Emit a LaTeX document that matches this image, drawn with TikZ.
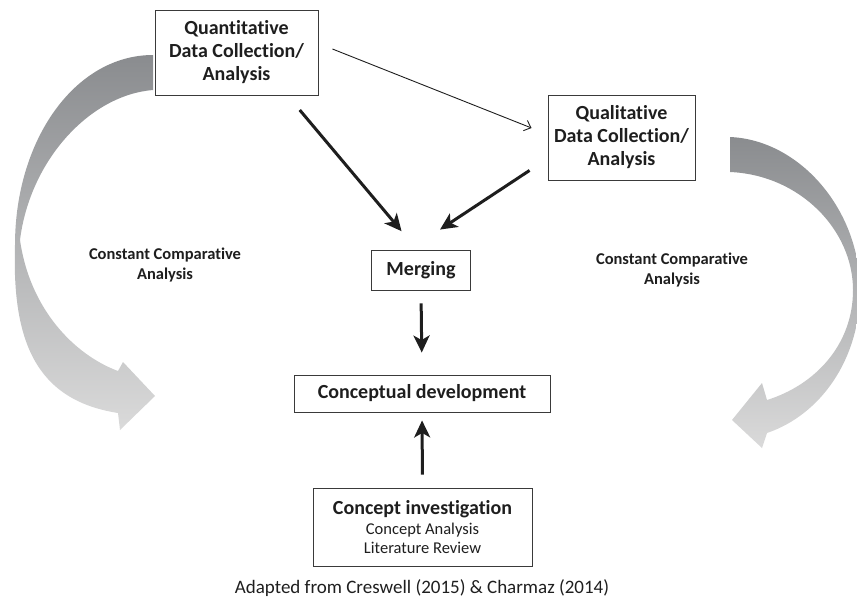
\documentclass[tikz,border=0pt]{standalone}
\usepackage{fontspec}
\setmainfont{Carlito}[Ligatures=NoCommon]
\usetikzlibrary{arrows.meta,calc}
\definecolor{inkc}{HTML}{1E1E1E}
\definecolor{framec}{HTML}{3A3A3A}
\definecolor{bandtop}{HTML}{8A8C8F}
\definecolor{bandbot}{HTML}{DADADA}
\tikzset{
  stagebox/.style={draw=framec, line width=0.9pt, align=center, text=inkc,
                   font=\bfseries\fontsize{20}{23}\selectfont, inner sep=0pt},
  heavy/.style={draw=inkc, line width=3pt, -{Stealth[length=17pt,width=16pt,inset=4.5pt]}},
  light/.style={draw=inkc, line width=0.9pt, -{Straight Barb[length=6pt,width=11pt]}},
  sidenote/.style={align=center, text=inkc, font=\bfseries\fontsize{16.5}{20}\selectfont},
  band/.style={draw=none, top color=bandtop, bottom color=bandbot},
}
\begin{document}
\begin{tikzpicture}[x=1pt,y=-1pt]
\useasboundingbox (0,0) rectangle (857,603);

% curved feedback bands
\path[band] (153,55) .. controls (75,55) and (15,140) .. (15,245)
  .. controls (12,340) and (35,400) .. (118,413)
  -- (120,430) -- (155,396) -- (123,362) -- (118,371)
  .. controls (75,355) and (30,310) .. (20,240)
  .. controls (30,160) and (90,95) .. (153,90) -- cycle;
\path[band] (730,137) .. controls (800,140) and (860,210) .. (860,290)
  .. controls (860,360) and (820,415) .. (767,433)
  -- (762,448) -- (732,420) -- (762,383) -- (767,400)
  .. controls (815,385) and (853,345) .. (853,290)
  .. controls (853,230) and (800,175) .. (730,172) -- cycle;

% stages
\node[stagebox, minimum width=163pt, minimum height=85pt] (quant) at (236.5,52.5)
  {Quantitative\\Data Collection/\\Analysis};
\node[stagebox, minimum width=147pt, minimum height=85pt] (qual) at (621.5,137.5)
  {Qualitative\\Data Collection/\\Analysis};
\node[stagebox, minimum width=99pt, minimum height=40pt] (merge) at (421,270) {Merging};
\node[stagebox, minimum width=256pt, minimum height=37pt] (concdev) at (422,393.5)
  {Conceptual development};
\node[stagebox, minimum width=219pt, minimum height=78pt] (concinv) at (422.5,527)
  {Concept investigation\\[-3pt]
   {\mdseries\fontsize{16.5}{19}\selectfont Concept Analysis}\\[-4pt]
   {\mdseries\fontsize{16.5}{19}\selectfont Literature Review}};

% side labels and source
\node[sidenote] (ccl) at (165,265) {Constant Comparative\\Analysis};
\node[sidenote] (ccr) at (672,270) {Constant Comparative\\Analysis};
\node[text=inkc, font=\fontsize{19}{22}\selectfont] (src) at (422,588)
  {Adapted from Creswell (2015) \& Charmaz (2014)};

% connectors
\draw[light] ($(quant.east)+(14,-3.5)$) -- ($(qual.west)+(-16,-9.5)$);
\draw[heavy, shorten <=19pt, shorten >=24pt] ($(quant.south)+(51,0)$) -- ($(merge.north)+(-4,0)$);
\draw[heavy] ($(qual.south west)+(-18,-10)$) -- ($(merge.north)+(19,-20)$);
\draw[heavy, shorten <=13pt, shorten >=22pt] (merge.south) -- (concdev.north);
\draw[heavy, shorten <=13pt, shorten >=8pt] (concinv.north) -- (concdev.south);
\end{tikzpicture}
\end{document}
